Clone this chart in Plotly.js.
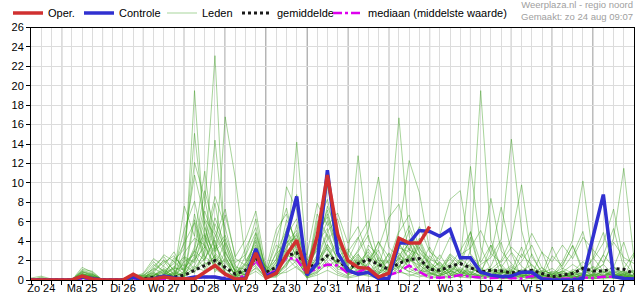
<!DOCTYPE html>
<html><head><meta charset="utf-8">
<script src="https://cdn.plot.ly/plotly-3.0.1.min.js"></script>
<style>html,body{margin:0;padding:0;background:#fff}#chart{width:635px;height:300px}</style>
</head><body><div id="chart"></div>
<script>
// ---- data (6-hourly, from zo 24 aug 06:00) ----
const startUTC = Date.UTC(2025, 7, 24, 6);
const stepHours = 6;
const dayDates = ['2025-08-24','2025-08-25','2025-08-26','2025-08-27','2025-08-28','2025-08-29','2025-08-30','2025-08-31','2025-09-01','2025-09-02','2025-09-03','2025-09-04','2025-09-05','2025-09-06','2025-09-07'];
const dayLabels = ['Zo 24','Ma 25','Di 26','Wo 27','Do 28','Vr 29','Za 30','Zo 31','Ma 1','Di 2','Wo 3','Do 4','Vr 5','Za 6','Zo 7'];

const oper = [0,0,0,0,0,0.4,0.1,0,0,0,
 0.6,0.05,0.1,0.3,0.15,0.1,0.1,0.8,1.5,0.6,
 0.1,0.1,2.8,0.2,0.7,2.6,4.1,0.7,4.5,10.8,
 4.7,2.0,1.3,1.2,0.3,0.7,4.3,3.8,3.8,5.5,
 null,null,null,null,null,null,null,null,null,null,
 null,null,null,null,null,null,null,null,null,null];
const controle = [0,0,0,0,0,0.3,0.15,0,0,0,
 0.3,0,0.1,0.4,0.2,0.1,0.3,0.3,0.3,0.1,
 0,0.2,3.2,0.4,0.8,4.5,8.6,0.5,1.7,11.3,
 2.8,1.0,0.6,0.8,0.15,0.15,3.8,3.8,5.1,5.0,
 4.5,5.2,2.3,2.3,0.8,0.5,0.35,0.4,0.8,0.8,
 0.1,0,0,0,0.15,4.4,8.8,0.35,0.15,0.1];
const gemiddelde = [0,0.05,0,0,0,0.15,0.1,0,0,0,
 0.2,0.1,0.3,0.3,0.3,0.5,1.0,1.5,2.0,1.3,
 0.6,1.0,2.3,0.8,1.3,2.5,2.8,1.2,1.7,2.5,
 2.0,1.2,1.7,2.1,1.6,1.1,1.7,2.1,2.2,1.1,
 1.0,1.4,1.7,1.3,0.83,1.0,0.93,0.73,0.83,1.0,
 0.67,0.33,0.5,0.67,1.2,0.93,0.93,1.2,1.1,0.67];
const mediaan = [0,0,0,0,0,0.05,0,0,0,0,
 0,0,0,0,0,0.1,0.2,0.3,0.3,0.2,
 0.1,0.5,2.0,0.5,1.0,2.3,2.1,0.7,1.2,1.6,
 1.5,0.73,0.8,1.3,0.33,0.5,0.83,1.5,0.83,0.27,
 0.23,0.33,0.5,0.33,0.23,0.2,0.25,0.2,0.15,0.4,
 0.2,0.1,0.1,0.15,0.27,0.2,0.33,0.33,0.2,0.15];

const lid01 = [0,0.3,0,0,0,0.6,0.2,0,0,0, 0.1,0,0.4,1.2,0.3,0.8,19.5,4.2,2.1,0.5, 0.2,1.1,2.4,0.3,1.0,3.1,2.2,0.4,1.8,3.2, 1.5,0.6,2.0,1.1,0.4,0.8,2.3,1.4,0.9,0.3, 0.5,1.2,0.8,0.4,0.2,0.6,1.1,0.3,0,0.2, 0.4,0.1,0,0.6,1.3,0.4,0.2,0.8,0.5,0.1];
const lid02 = [0,0,0,0,0,1.3,0.8,0,0,0, 0.2,0,0,0.5,2.3,1.4,3.1,7.8,23.1,2.5, 0.3,0.6,1.8,0.5,2.2,4.6,6.3,1.2,3.4,6.1, 2.8,1.1,0.7,2.4,1.8,0.6,3.8,2.1,1.5,0.8, 0.3,0.9,2.2,1.4,0.6,0.3,0.2,0.5,1.1,0.4, 0.2,0,0.3,0.9,0.5,0.2,0.7,1.4,0.6,0.3];
const lid03 = [0,0,0,0,0,0.9,0.4,0,0,0, 0,0.3,0.8,0.2,0,2.1,15.1,5.6,1.8,16.8, 10.4,2.0,3.6,0.6,0.4,1.8,2.9,0.3,0.9,2.2, 4.1,1.9,0.8,0.5,1.2,2.7,1.0,0.4,0.8,1.6, 0.7,0.2,0.5,0.9,0.3,0.8,0.4,0.2,0.6,0.3, 0.1,0.4,0.9,0.3,0.1,0.5,0.3,0.2,0.6,0.2];
const lid04 = [0,0,0,0,0,0.2,0.1,0,0,0, 0.4,0.1,0,0.6,1.1,5.2,8.1,3.3,14.4,4.0, 1.5,0.4,4.8,1.1,0.7,2.4,14.2,2.0,4.1,7.2, 3.0,0.9,1.5,0.8,0.3,1.2,4.4,3.1,2.6,1.0, 1.8,0.6,0.3,0.8,1.2,0.4,0.6,1.3,0.8,0.2, 0.5,0.3,0.1,0.2,0.6,1.0,0.4,0.2,0.3,0.5];
const lid05 = [0,0,0,0,0,0.5,0.6,0,0,0, 0,0,1.4,2.4,0.9,0.3,6.2,2.1,4.4,7.3, 2.2,1.5,2.1,0.2,1.6,3.3,4.8,0.6,2.4,5.0, 6.3,2.4,12.8,4.2,2.0,1.9,5.1,12.3,9.0,3.1, 1.1,2.4,1.0,0.6,0.4,0.9,1.6,0.5,0.3,0.8, 0.2,0.6,1.2,0.7,0.3,0.1,0.4,0.9,0.4,0.2];
const lid06 = [0.2,0.4,0.1,0,0,0.7,0.3,0,0,0, 0.3,0.2,0.9,1.8,2.5,1.0,3.4,9.2,5.1,2.8, 0.9,3.3,5.4,0.8,1.4,6.2,4.0,1.1,5.6,8.3, 3.6,1.4,3.1,5.2,10.6,3.4,2.2,1.7,3.8,1.4, 0.6,1.5,3.0,4.9,1.8,3.6,0.3,0.9,3.4,0.5, 2.9,0.3,1.6,3.5,0.8,2.3,4.9,1.4,0.2,2.6];
const lid07 = [0,0,0,0,0,0.4,0.2,0,0,0, 0.1,0,0.2,0.5,1.4,0.6,2.0,4.6,2.8,1.5, 0.6,0.2,1.3,0.4,2.9,5.1,3.3,0.8,6.8,4.4, 2.1,0.7,1.8,2.9,1.4,4.8,16.7,4.5,2.2,0.9, 2.6,1.0,0.5,1.7,0.8,1.2,0.5,0.3,0.9,1.6, 0.6,0.2,0.4,0.8,1.9,0.7,0.4,1.0,0.6,0.3];
const lid08 = [0,0,0,0,0,0.8,0.5,0,0,0, 0.3,0.6,1.9,0.8,0.3,0.5,1.2,2.7,6.4,3.5, 0.8,1.6,3.9,0.6,0.9,2.0,5.7,0.5,1.3,3.6, 2.4,3.2,1.5,0.6,2.3,1.0,3.2,5.6,2.9,1.8, 4.6,8.3,9.2,2.7,1.3,0.4,0.8,0.6,0.2,0.5, 1.0,0.6,0.2,0.5,0.7,1.4,0.8,0.3,0.7,0.4];
const lid09 = [0,0,0,0,0,0.3,0.1,0,0,0, 0,0.1,0.3,0.9,1.7,3.8,5.9,1.6,2.4,0.8, 0.4,0.9,2.7,0.2,0.5,1.4,3.8,0.9,2.6,9.7, 4.5,0.8,2.6,1.3,0.7,2.1,1.3,3.3,1.6,0.6, 1.2,0.5,2.1,11.7,3.4,1.0,0.6,1.1,0.3,0.9, 0.4,0.8,0.5,0.3,0.4,0.9,1.6,0.5,0.9,0.7];
const lid10 = [0,0,0,0,0,0.1,0,0,0,0, 0,0,0.5,1.0,0.4,2.8,4.3,3.6,1.2,2.2, 1.0,0.5,1.9,0.9,3.6,2.8,1.6,0.3,1.1,2.8, 1.6,0.5,0.9,1.6,3.1,0.5,1.8,2.4,4.3,1.9, 0.8,1.6,0.7,3.0,19.5,4.1,1.3,0.7,0.5,0.3, 0.7,1.2,0.4,0.9,0.2,0.6,0.3,1.2,0.8,0.4];
const lid11 = [0,0,0,0,0,0.6,0.4,0,0,0, 0.2,0.4,0.7,2.1,1.0,0.4,2.5,6.1,3.2,4.6, 1.8,2.6,6.3,0.4,1.8,4.1,2.5,0.7,3.9,5.3, 1.8,2.9,4.4,1.9,0.6,1.5,2.8,1.2,0.6,2.5, 1.4,0.3,1.3,0.5,2.2,8.4,3.0,1.7,0.6,1.1, 0.3,2.5,1.4,3.6,1.1,0.4,2.6,5.3,1.2,2.8];
const lid12 = [0,0,0,0,0,0.2,0.3,0,0,0, 0.4,0.1,0.2,0.3,0.9,1.6,0.7,3.1,7.9,2.1, 0.5,1.2,2.3,1.4,0.6,3.5,4.6,2.1,1.6,4.2, 5.3,1.2,0.6,3.6,2.5,0.8,1.4,2.6,1.1,0.4, 0.9,2.2,0.6,1.1,0.9,2.7,7.5,2.9,1.4,0.6, 1.3,0.4,0.2,1.1,0.6,0.3,1.1,0.7,0.3,0.6];
const lid13 = [0,0,0,0,0,0.7,0.2,0,0,0, 0,0.2,0.6,0.4,1.3,2.4,1.8,5.4,2.3,1.1, 0.3,0.7,1.5,0.1,1.2,2.2,3.9,1.5,4.8,6.5, 2.9,0.6,1.1,0.8,1.6,0.4,2.5,3.8,1.9,0.7, 0.4,1.3,0.9,0.5,1.6,2.3,4.2,14.5,5.1,1.2, 0.5,0.9,0.7,0.3,0.5,1.3,0.5,0.6,0.4,0.9];
const lid14 = [0.1,0.2,0,0,0,0.4,0.5,0,0,0, 0.3,0.5,1.1,2.6,1.9,0.9,3.0,2.0,5.8,3.1, 0.7,1.8,4.1,0.6,0.8,5.3,2.1,0.4,2.0,3.4, 1.2,2.2,0.9,1.4,4.0,1.6,0.9,2.0,3.4,1.2, 0.5,0.8,1.9,0.7,0.3,1.1,2.0,4.3,9.8,2.4, 0.8,0.3,1.0,0.4,0.8,0.2,0.5,0.8,0.9,0.3];
const lid15 = [0,0,0,0,0,0.3,0.2,0,0,0, 0.2,0,0.1,0.6,0.5,1.3,2.2,7.1,3.9,0.6, 0.2,0.4,3.4,0.3,0.4,1.7,3.0,0.2,0.7,1.9, 0.9,0.4,2.4,0.9,0.5,2.8,1.6,0.8,1.4,3.4, 1.6,0.7,0.4,1.3,0.6,0.9,0.4,0.8,1.9,3.6, 1.2,0.5,1.9,4.1,10.2,2.3,0.9,0.4,0.6,1.0];
const lid16 = [0,0,0,0,0,1.0,0.7,0,0,0, 0.5,0.3,0.4,1.5,2.9,0.7,1.5,3.9,8.6,5.4, 1.3,1.1,4.4,0.8,2.7,3.8,5.1,1.8,3.0,7.6, 4.8,1.6,2.7,1.0,0.9,1.3,3.6,2.3,0.7,1.1, 0.3,2.6,1.5,4.4,0.7,1.4,3.9,0.4,2.7,1.5, 0.6,0.2,0.8,1.6,0.9,2.1,3.8,7.3,1.9,0.6];
const lid17 = [0,0,0,0,0,0.5,0.3,0,0,0, 0.1,0.2,0.3,0.7,0.4,1.9,2.6,1.1,3.6,1.8, 0.6,0.9,2.0,0.5,1.1,2.6,1.9,0.6,1.4,2.4, 1.1,0.9,1.7,2.6,0.8,0.6,2.0,3.9,1.3,0.5, 1.0,0.4,0.8,2.1,0.9,0.5,1.2,0.6,1.0,0.4, 0.9,0.7,0.3,0.6,1.4,0.8,1.6,4.3,11.5,2.2];
const lid18 = [0,0.1,0,0,0,0.8,0.6,0,0,0, 0.6,0.4,1.6,0.9,0.2,4.1,10.8,6.3,4.7,2.4, 0.4,2.5,4.9,1.0,2.1,9.6,7.2,0.9,3.3,10.4, 3.9,2.0,4.3,6.1,2.0,0.9,4.9,6.7,3.2,2.2, 1.5,0.9,0.3,0.6,0.4,0.2,0.7,1.0,0.5,0.2, 0.3,0.1,0.5,0.2,0.4,0.6,0.2,0.5,0.3,0.1];
const lid19 = [0,0,0,0,0,0.4,0.1,0,0,0, 0,0,0.2,0.4,0.7,0.4,0.9,1.8,1.1,0.5, 0.1,0.6,1.2,0.2,0.3,1.1,2.0,0.4,0.8,1.6, 0.7,0.3,0.6,0.4,0.2,0.3,1.4,0.9,0.5,0.2, 0.3,0.2,0.6,0.3,0.1,0.4,0.2,0.1,0.3,0.1, 0,0.2,0.1,0.3,0.2,0.1,0.3,0.2,0.1,0];
const lid20 = [0,0,0,0,0,1.1,0.9,0,0,0, 0.3,0.7,2.2,1.4,0.6,7.6,4.5,11.2,3.0,6.7, 2.4,4.2,7.1,1.2,5.2,6.8,3.5,2.6,7.9,5.6, 6.9,3.8,5.5,2.2,3.3,6.4,7.8,3.0,5.5,2.9, 2.1,4.4,2.6,3.3,5.1,2.7,1.8,3.4,2.3,4.8, 2.8,1.9,3.6,2.2,4.4,3.1,1.8,3.9,2.3,1.7];
const lid21 = [0,0,0,0,0,0.2,0,0,0,0, 0,0.1,0.4,0.2,0.8,0.3,1.4,0.9,2.6,1.2, 0.2,0.3,0.9,0.1,0.6,0.8,1.4,0.2,0.5,1.0, 0.5,0.2,0.4,0.7,0.3,0.5,0.8,0.6,0.3,0.7, 0.2,0.5,0.3,0.2,0.5,0.3,0.1,0.2,0.4,0.2, 0.1,0.3,0.2,0.1,0.3,0.2,0.1,0.3,0.2,0.1];
const lid22 = [0,0,0,0,0,0.6,0.4,0,0,0, 0.4,0.2,1.0,2.0,0.5,0.6,6.8,2.4,1.6,3.8, 0.7,1.4,3.0,0.4,1.9,4.4,8.8,1.0,2.2,4.7, 2.6,1.3,0.5,1.8,3.9,2.4,1.1,4.2,2.4,0.9, 1.9,0.6,1.1,0.8,0.5,1.0,0.7,1.5,0.4,0.6, 0.2,0.6,0.9,0.4,0.3,0.7,0.5,0.3,0.8,0.4];
const lid23 = [0,0,0,0,0,0.5,0.2,0,0,0, 0.1,0.3,0.5,0.8,1.2,1.1,2.9,4.8,0.8,2.9, 0.9,0.5,2.6,0.3,1.3,2.3,1.2,0.5,3.7,1.3, 2.2,0.7,2.2,0.6,1.5,1.1,2.6,1.8,4.1,1.5, 0.6,1.1,0.4,1.5,0.8,0.3,1.1,0.4,0.7,0.3, 0.5,0.3,0.7,0.2,0.6,0.4,0.9,0.6,0.4,0.3];
const lid24 = [0,0,0,0,0,0.3,0.4,0,0,0, 0.2,0.1,0.7,0.3,0.6,2.3,1.1,2.2,4.1,0.7, 0.3,1.7,3.3,0.6,0.9,3.9,4.3,0.8,6.1,3.1, 1.7,1.8,2.9,4.6,1.1,0.7,3.3,2.9,1.7,1.3, 0.8,1.8,0.9,0.4,1.0,0.6,0.4,0.9,0.6,1.1, 0.4,0.5,0.3,0.8,0.4,0.5,0.8,0.4,0.5,0.2];
const lid25 = [0,0,0,0,0,0.9,0.6,0,0,0, 0.3,0.4,1.2,0.6,2.0,3.2,12.1,8.4,2.9,4.2, 1.1,0.8,2.4,0.7,4.3,7.4,2.8,1.3,4.3,6.8, 3.4,2.7,1.3,3.2,1.7,1.8,2.1,5.1,2.8,1.7, 1.1,2.7,1.8,5.0,0.6,3.6,1.3,2.8,0.2,2.7, 0.6,3.4,1.1,2.6,5.0,0.8,2.6,1.3,3.9,0.5];
const lid26 = [0,0,0,0,0,0.4,0.3,0,0,0, 0.2,0.5,0.4,1.1,0.3,0.9,2.1,3.4,1.5,2.0, 0.4,1.0,1.7,0.5,0.8,1.5,3.2,0.6,1.9,3.7, 1.4,1.1,2.0,1.2,0.6,1.4,0.7,2.4,1.0,0.8, 0.4,0.9,0.6,0.3,0.7,0.5,0.9,0.3,0.5,0.4, 0.3,0.2,0.4,0.5,0.2,0.3,0.4,0.6,0.3,0.2];
const leden = [lid01,lid02,lid03,lid04,lid05,lid06,lid07,lid08,lid09,lid10,lid11,lid12,lid13,lid14,lid15,lid16,lid17,lid18,lid19,lid20,lid21,lid22,lid23,lid24,lid25,lid26];

// ---- build ----
function fmt(ms){const d=new Date(ms);const p=n=>String(n).padStart(2,'0');
  return d.getUTCFullYear()+'-'+p(d.getUTCMonth()+1)+'-'+p(d.getUTCDate())+' '+p(d.getUTCHours())+':00';}
const times = controle.map((_,i)=>fmt(startUTC + i*stepHours*3600000));
const xRange = [times[0], times[times.length-1]];
const FONT = 'Liberation Sans, Arial, sans-serif';

const traces = [];
leden.forEach((m,k)=>traces.push({x:times,y:m,type:'scatter',mode:'lines',name:'Leden',
  line:{color:'rgba(60,160,30,0.45)',width:1},showlegend:k===0,legend:'legend3',hoverinfo:'skip'}));
traces.push({x:times,y:gemiddelde,type:'scatter',mode:'lines',name:'gemiddelde',line:{color:'#1a1a1a',width:3,dash:'dot'},legend:'legend4'});
traces.push({x:times,y:mediaan,type:'scatter',mode:'lines',name:'mediaan (middelste waarde)',line:{color:'#dd00ee',width:2.5,dash:'dashdot'},legend:'legend5'});
traces.push({x:times,y:controle,type:'scatter',mode:'lines',name:'Controle',line:{color:'#3030d0',width:3.5},legend:'legend2'});
traces.push({x:times,y:oper,type:'scatter',mode:'lines',name:'Oper.',line:{color:'#d03030',width:3.5},legend:'legend',xaxis:'x2'});

const lg = (textX)=>({orientation:'h',xref:'container',yref:'container',xanchor:'left',yanchor:'middle',
  x:(textX-40)/635,y:1-13/300,bgcolor:'rgba(0,0,0,0)',borderwidth:0,itemwidth:30,
  font:{family:FONT,size:11,color:'#000'}});

const layout = {
  width:635,height:300,margin:{l:31,r:1,t:20,b:20,pad:0},
  paper_bgcolor:'#fff',plot_bgcolor:'#fff',
  font:{family:FONT,size:11,color:'#000'},
  showlegend:true,
  legend:lg(48),legend2:lg(119),legend3:lg(202),legend4:lg(277),legend5:lg(368),
  // 6-hourly ticks + light grid
  xaxis:{type:'date',range:xRange,tickmode:'linear',tick0:'2025-08-24 00:00',dtick:stepHours*3600000,
    ticks:'outside',ticklen:4,tickcolor:'#000',showticklabels:false,showgrid:true,gridcolor:'#dcdcdc',
    showline:true,linecolor:'#000',linewidth:1,mirror:true,zeroline:false},
  // day labels at noon
  xaxis2:{type:'date',range:xRange,overlaying:'x',anchor:'y',side:'bottom',tickmode:'array',
    tickvals:dayDates.map(d=>d+' 12:00'),ticktext:dayLabels,ticks:'',showgrid:false,showline:false,zeroline:false,
    tickfont:{family:FONT,size:11,color:'#000'}},
  yaxis:{range:[0,26],tick0:0,dtick:2,ticks:'outside',ticklen:4,tickcolor:'#000',
    showgrid:true,gridcolor:'#dcdcdc',showline:true,linecolor:'#000',linewidth:1,mirror:true,zeroline:false,
    tickfont:{family:FONT,size:11,color:'#000'}},
  shapes:dayDates.filter(d=>d+' 00:00'>times[0]).map(d=>({type:'line',xref:'x',yref:'paper',x0:d+' 00:00',x1:d+' 00:00',y0:0,y1:1,
    line:{color:'#555',width:1},layer:'between'})),
  annotations:[
    {xref:'paper',yref:'paper',x:1,y:(280-2)/260,xanchor:'right',yanchor:'middle',align:'right',showarrow:false,borderpad:0,
     text:'Weerplaza.nl - regio noord<br>Gemaakt: zo 24 aug 09:07',font:{family:FONT,size:9.5,color:'#a0a0a0'}}
  ]
};
Plotly.newPlot('chart',traces,layout,{displayModeBar:false,staticPlot:true});
</script></body></html>
